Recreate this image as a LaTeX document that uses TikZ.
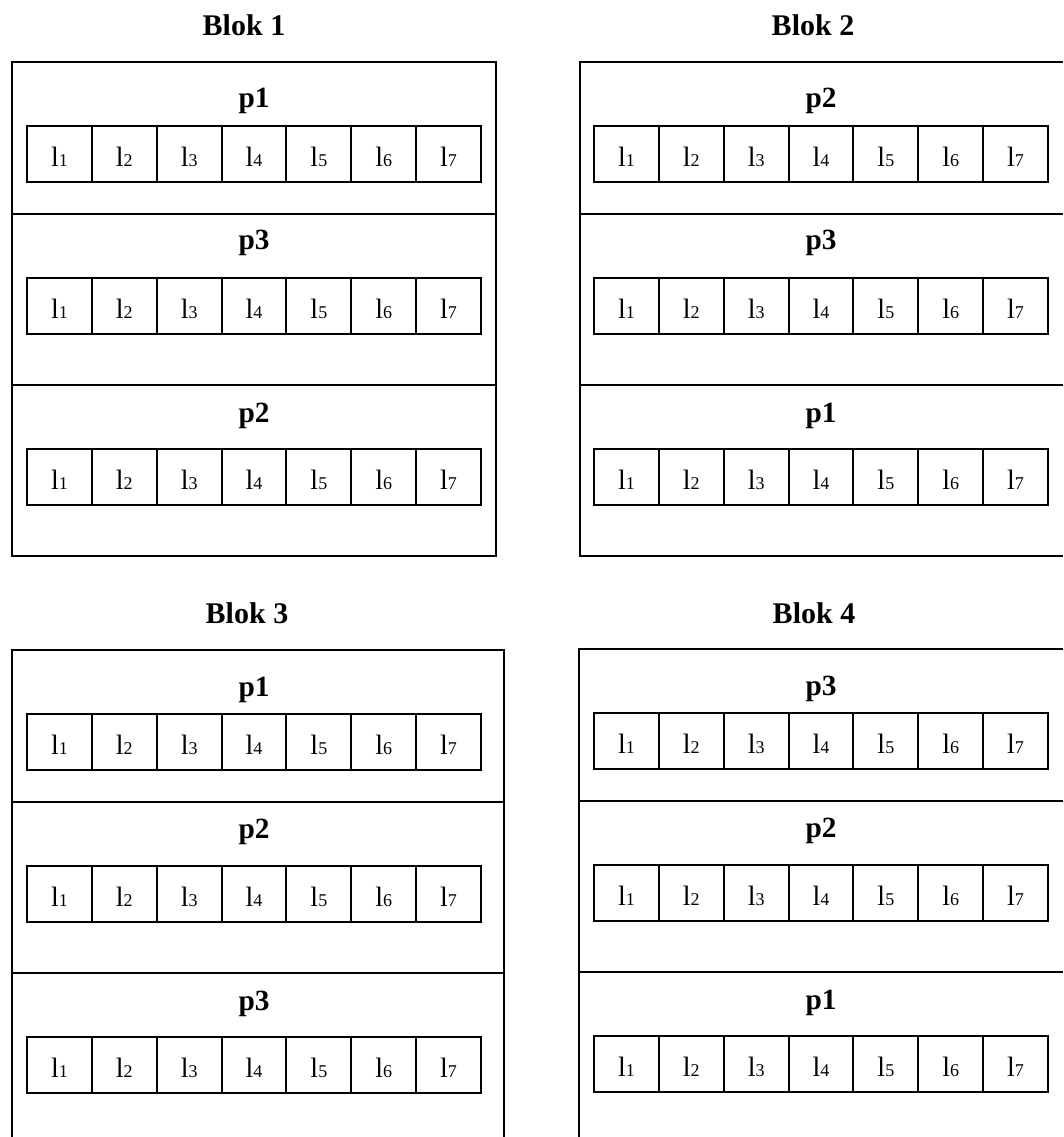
\documentclass[tikz,border=0pt]{standalone}
\usepackage{fontspec}
\setmainfont{Liberation Serif}
\begin{document}
\begin{tikzpicture}[x=0.75pt,y=-0.75pt,
  line width=1.5pt,
  titletext/.style={font=\fontsize{22.5}{27}\selectfont\bfseries, anchor=base, inner sep=0},
  ptext/.style={font=\fontsize{22}{26}\selectfont\bfseries, anchor=base, inner sep=0},
  cellbox/.style={draw, line width=1.5pt, minimum width=48.64pt, minimum height=42pt, inner sep=0, outer sep=0, text height=19pt, text depth=0pt, font=\fontsize{21}{24}\selectfont},
]
\newcommand\lab[1]{l{\fontsize{13.5}{15}\selectfont #1}}
\newcommand\cellrow[3]{%
  \foreach \i in {1,...,7}{
    \node[cellbox] (#1-\i) at ({#2+64.857*(\i-0.5)},{#3+28}) {\lab{\i}};
  }}
\useasboundingbox (0,0) rectangle (1063,1137);

% Block 1
\node[titletext] (t1) at (244,36) {Blok 1};
\draw (12,62) rectangle (496,556);
\draw (12,214) -- (496,214);
\draw (12,385) -- (496,385);
\node[ptext] (b1p1) at (254,108) {p1};
\cellrow{b1r1}{27}{126}
\node[ptext] (b1p3) at (254,250) {p3};
\cellrow{b1r2}{27}{278}
\node[ptext] (b1p2) at (254,422) {p2};
\cellrow{b1r3}{27}{449}

% Block 2
\node[titletext] (t2) at (813,36) {Blok 2};
\draw (1063,62) -- (580,62) -- (580,556) -- (1063,556);
\draw (580,214) -- (1063,214);
\draw (580,385) -- (1063,385);
\node[ptext] (b2p2) at (821,108) {p2};
\cellrow{b2r1}{594}{126}
\node[ptext] (b2p3) at (821,250) {p3};
\cellrow{b2r2}{594}{278}
\node[ptext] (b2p1) at (821,422) {p1};
\cellrow{b2r3}{594}{449}

% Block 3
\node[titletext] (t3) at (247,623) {Blok 3};
\draw (12,1137) -- (12,650) -- (504,650) -- (504,1137);
\draw (12,802) -- (504,802);
\draw (12,973) -- (504,973);
\node[ptext] (b3p1) at (254,696) {p1};
\cellrow{b3r1}{27}{714}
\node[ptext] (b3p2) at (254,838) {p2};
\cellrow{b3r2}{27}{866}
\node[ptext] (b3p3) at (254,1010) {p3};
\cellrow{b3r3}{27}{1037}

% Block 4
\node[titletext] (t4) at (814,623) {Blok 4};
\draw (1063,649) -- (579,649) -- (579,1137);
\draw (579,801) -- (1063,801);
\draw (579,972) -- (1063,972);
\node[ptext] (b4p3) at (821,695) {p3};
\cellrow{b4r1}{594}{713}
\node[ptext] (b4p2) at (821,837) {p2};
\cellrow{b4r2}{594}{865}
\node[ptext] (b4p1) at (821,1009) {p1};
\cellrow{b4r3}{594}{1036}
\end{tikzpicture}
\end{document}
